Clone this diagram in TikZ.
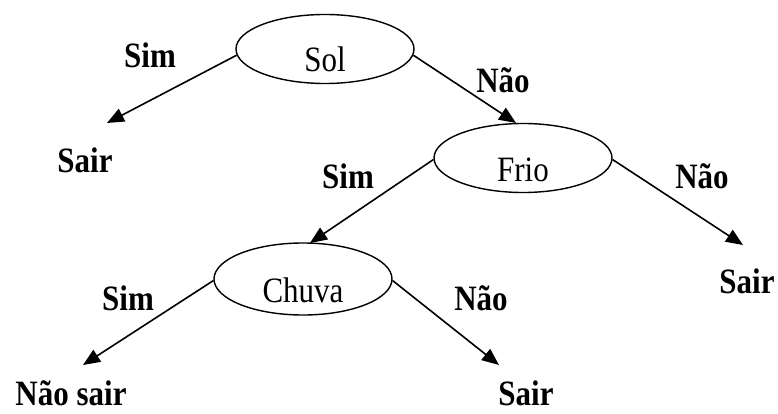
\documentclass[tikz,border=0pt]{standalone}
\usepackage{fontspec}
\setmainfont{Liberation Serif}
\usepackage{tikz}
\usetikzlibrary{shapes}
\usetikzlibrary{arrows.meta}
\newcommand{\Tall}[1]{\scalebox{1}[1.15]{#1}}
\tikzstyle{Test}=[ellipse,draw,line width=1.4pt,inner sep=0pt,
minimum width=178pt,minimum height=69pt,text height=46pt,text depth=0pt,
font=\fontsize{31}{36}\selectfont]
\tikzstyle{Label}=[anchor=base,inner sep=0pt,
font=\fontsize{31}{36}\selectfont\bfseries]
\tikzstyle{Edge}=[draw,line width=1.6pt,-{Triangle[length=17pt,width=14pt]}]

\begin{document}
\begin{tikzpicture}[x=1pt,y=1pt]
        \useasboundingbox(0,0)rectangle(778,-414);
        \node[Test](sol)at(325,-49){\Tall{Sol}};
        \node[Test](frio)at(523,-158){\Tall{Frio}};
        \node[Test,minimum height=72pt](chuva)at(303,-279){\Tall{Chuva}};
        \node[Label](sim1)at(150,-68){\Tall{Sim}};
        \node[Label](nao1)at(503,-93){\Tall{Não}};
        \node[Label](sair1)at(85,-172){\Tall{Sair}};
        \node[Label](sim2)at(348,-188){\Tall{Sim}};
        \node[Label](nao2)at(702,-189){\Tall{Não}};
        \node[Label](sair2)at(747,-293){\Tall{Sair}};
        \node[Label](sim3)at(128,-310){\Tall{Sim}};
        \node[Label](nao3)at(481,-310){\Tall{Não}};
        \node[Label](naosair)at(71,-405){\Tall{Não sair}};
        \node[Label](sair3)at(526,-405){\Tall{Sair}};
        \coordinate(t1)at(107,-123);
        \coordinate(t2)at(516,-123);
        \coordinate(t3)at(310,-243);
        \coordinate(t4)at(743,-245);
        \coordinate(t5)at(83,-365);
        \coordinate(t6)at(499,-365);
        \draw[Edge](sol.184)--(t1);
        \draw[Edge](sol.-4)--(t2);
        \draw[Edge](frio.181)--(t3);
        \draw[Edge](frio.-1)--(t4);
        \draw[Edge](chuva.181)--(t5);
        \draw[Edge](chuva.-1)--(t6);
    \end{tikzpicture}
\end{document}
